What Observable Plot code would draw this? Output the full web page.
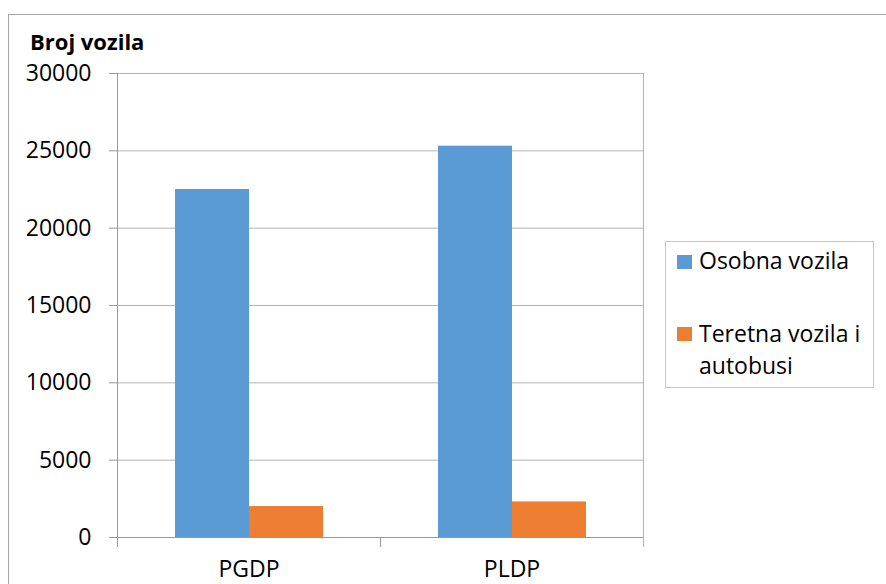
<!DOCTYPE html>
<html>
<head>
<meta charset="utf-8">
<script src="https://cdn.jsdelivr.net/npm/d3@7"></script>
<script src="https://cdn.jsdelivr.net/npm/@observablehq/plot@0.6"></script>
<style>
  html, body { margin: 0; padding: 0; background: #fff; overflow: hidden; }
  #wrap { position: relative; width: 886px; height: 584px; font-family: "Open Sans", sans-serif; color: #000; }
  #border { position: absolute; left: 8px; top: 14px; width: 900px; height: 600px; border: 1px solid #a6a6a6; box-sizing: border-box; }
  #chart { position: absolute; left: 0; top: 0; }
  #title { position: absolute; left: 30px; top: 26px; font-weight: bold; font-size: 22px; line-height: 30px; white-space: nowrap; }
  #legend { position: absolute; left: 665px; top: 241px; width: 209px; height: 147px; border: 1px solid #c6c6c6; box-sizing: border-box; background: #fff; }
  .sw { position: absolute; width: 15px; height: 14px; }
  .lt { position: absolute; font-size: 23px; line-height: 32px; white-space: nowrap; }
</style>
</head>
<body>
<div id="wrap">
  <div id="border"></div>
  <div id="chart"></div>
  <div id="title"></div>
  <div id="legend"></div>
</div>
<script>
const categories = ["PGDP", "PLDP"];
const series = ["Osobna vozila", "Teretna vozila i autobusi"];
const osobnaValues = [22500, 25300];
const teretnaValues = [2000, 2300];
const yTicks = [0, 5000, 10000, 15000, 20000, 25000, 30000];
const colors = ["#5B9BD5", "#ED7D31"];
const titleText = "Broj vozila";

const data = [];
categories.forEach((c, i) => {
  data.push({category: c, series: series[0], value: osobnaValues[i]});
  data.push({category: c, series: series[1], value: teretnaValues[i]});
});

const W = 886, H = 584, ML = 117, MR = 243, MT = 73, MB = 47;
const plotH = H - MT - MB;
const gridColor = "#b3b3b3";
const axisColor = "#989898";

const chart = Plot.plot({
  width: W, height: H,
  marginLeft: ML, marginRight: MR, marginTop: MT, marginBottom: MB,
  style: {fontFamily: "Open Sans", fontSize: "23px", color: "#000", background: "transparent", overflow: "visible"},
  fx: {domain: categories, paddingInner: 0, paddingOuter: 0, label: null, axis: null},
  x: {domain: series, paddingInner: 0, paddingOuter: 0.76, axis: null},
  y: {domain: [0, 30000], axis: null},
  color: {domain: series, range: colors},
  marks: [
    Plot.gridY(yTicks.slice(1), {stroke: gridColor, strokeOpacity: 1}),
    Plot.barY(data, {fx: "category", x: "series", y: "value", fill: "series"}),
    Plot.ruleY([0], {stroke: axisColor}),
    Plot.frame({anchor: "left", fx: categories[0], stroke: axisColor, insetBottom: -9}),
    Plot.frame({anchor: "right", fx: categories[1], stroke: gridColor, insetBottom: -9}),
    Plot.frame({anchor: "left", fx: categories[1], stroke: axisColor, insetTop: plotH, insetBottom: -9}),
    Plot.axisY(yTicks, {tickSize: 8, tickPadding: 18, stroke: axisColor, fill: "#000", fontSize: 23, tickFormat: d => String(d), label: null}),
    Plot.axisFx({anchor: "bottom", tickSize: 0, tickPadding: 23, fontSize: 23, fill: "#000", label: null})
  ]
});
document.getElementById("chart").appendChild(chart);

document.getElementById("title").textContent = titleText;

const legend = document.getElementById("legend");
const legendItems = [
  {color: colors[0], lines: ["Osobna vozila"], swTop: 13, textTop: 2},
  {color: colors[1], lines: ["Teretna vozila i", "autobusi"], swTop: 85, textTop: 75}
];
legendItems.forEach(it => {
  const sw = document.createElement("div");
  sw.className = "sw";
  sw.style.left = "11px";
  sw.style.top = it.swTop + "px";
  sw.style.background = it.color;
  legend.appendChild(sw);
  it.lines.forEach((ln, k) => {
    const t = document.createElement("div");
    t.className = "lt";
    t.style.left = "33px";
    t.style.top = (it.textTop + k * 32) + "px";
    t.textContent = ln;
    legend.appendChild(t);
  });
});
</script>
</body>
</html>
